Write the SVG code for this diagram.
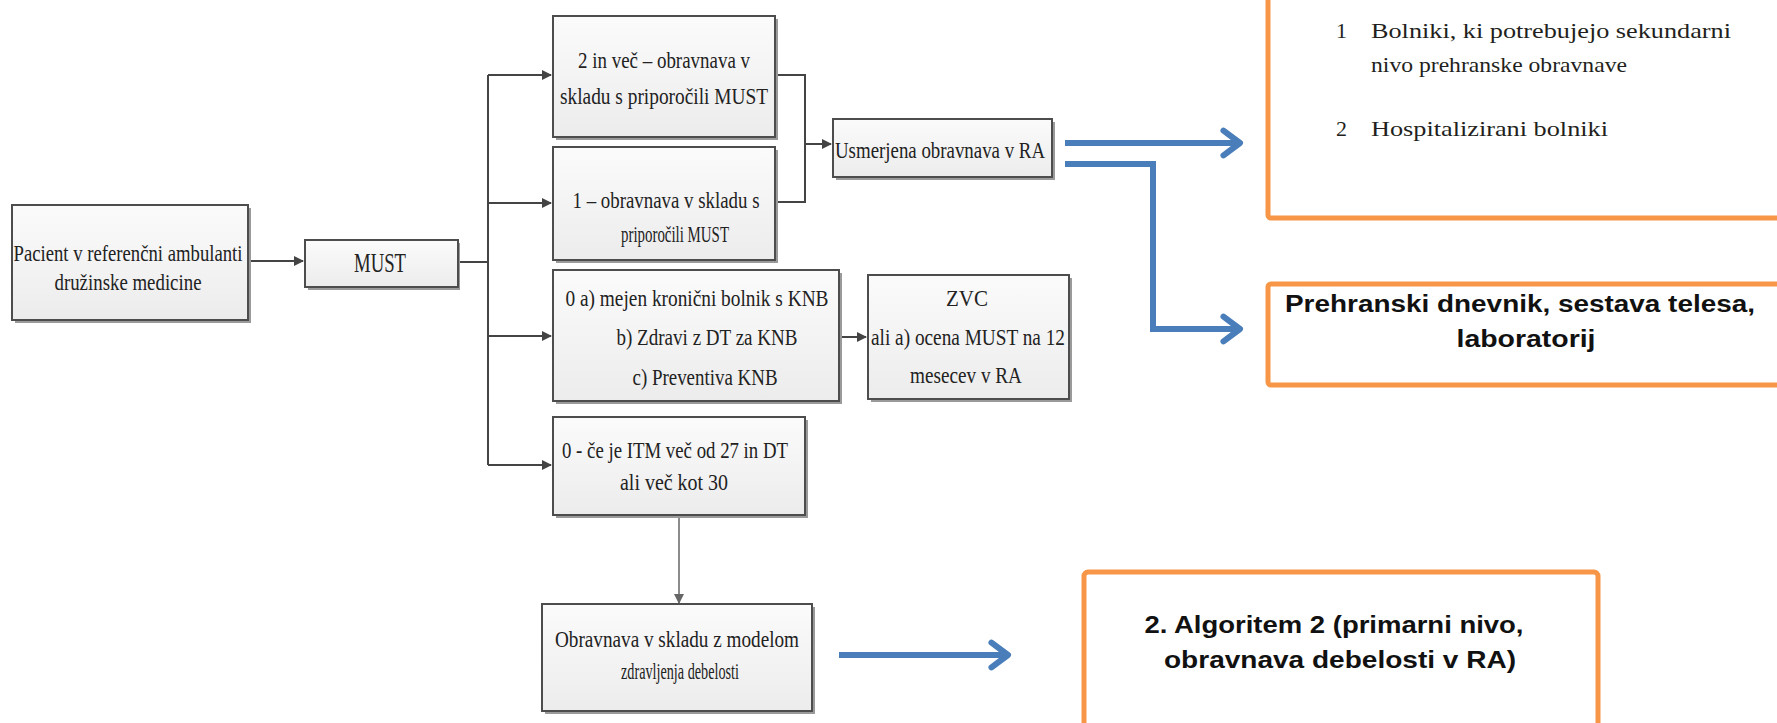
<svg xmlns="http://www.w3.org/2000/svg" width="1777" height="723" viewBox="0 0 1777 723">
<defs>
<linearGradient id="gf" x1="0" y1="0" x2="0" y2="1">
<stop offset="0" stop-color="#fbfbfb"/>
<stop offset="1" stop-color="#ececec"/>
</linearGradient>
<marker id="ah" viewBox="0 0 10 10" refX="9" refY="5" markerWidth="5" markerHeight="5" orient="auto" markerUnits="strokeWidth">
<path d="M0,0 L10,5 L0,10 Z" fill="#444"/>
</marker>
<marker id="ahs" viewBox="0 0 10 10" refX="9" refY="5" markerWidth="7" markerHeight="7" orient="auto" markerUnits="strokeWidth">
<path d="M0,0 L10,5 L0,10 Z" fill="#666"/>
</marker>
<marker id="bh" viewBox="0 0 12 12" refX="9" refY="6" markerWidth="5.5" markerHeight="5.5" orient="auto" markerUnits="strokeWidth">
<path d="M3,1.5 L9,6 L3,10.5" fill="none" stroke="#4a7ebb" stroke-width="2.2" stroke-linecap="round" stroke-linejoin="round"/>
</marker>
</defs>
<style>
.box{fill:url(#gf);stroke:#4d4d4d;stroke-width:2}
.sh{fill:#9a9a9a}
.t{font-family:"Liberation Serif","Times New Roman",serif;font-size:24px;fill:#222;text-anchor:middle;dominant-baseline:central}
.ob{fill:#fff;stroke:#f79646;stroke-width:5}
.st{font-family:"Liberation Serif","Times New Roman",serif;font-size:22px;fill:#231f20;dominant-baseline:central}
.bt{font-family:"Liberation Sans",Arial,sans-serif;font-size:23px;font-weight:bold;fill:#111;text-anchor:middle;dominant-baseline:central}
.c{fill:none;stroke:#444;stroke-width:2}
.bl{fill:none;stroke:#4a7ebb;stroke-width:6}
</style>
<rect width="1777" height="723" fill="#fff"/>

<g id="connectors">
<path class="c" d="M248,261 H303" marker-end="url(#ah)"/>
<path class="c" d="M460,262 H488 M488,75 V465"/>
<path class="c" d="M488,75 H551" marker-end="url(#ah)"/>
<path class="c" d="M488,203 H551" marker-end="url(#ah)"/>
<path class="c" d="M488,336 H551" marker-end="url(#ah)"/>
<path class="c" d="M488,465 H551" marker-end="url(#ah)"/>
<path class="c" d="M776,75 H805 V202 H776"/>
<path class="c" d="M805,144 H831" marker-end="url(#ah)"/>
<path class="c" d="M839,337 H866" marker-end="url(#ah)"/>
<path d="M679,516 V603" fill="none" stroke="#666" stroke-width="1.5" marker-end="url(#ahs)"/>
<path class="bl" d="M1065,143 H1240" marker-end="url(#bh)"/>
<path class="bl" d="M1065,164 H1153 V329 H1240" marker-end="url(#bh)"/>
<path class="bl" d="M839,655 H1008" marker-end="url(#bh)"/>
</g>

<g id="patient">
<rect class="sh" x="15" y="208" width="236" height="115"/>
<rect class="box" x="12" y="205" width="236" height="115"/>
<text class="t" x="128" y="253" textLength="229" lengthAdjust="spacingAndGlyphs">Pacient v referenčni ambulanti</text>
<text class="t" x="128" y="282" textLength="147" lengthAdjust="spacingAndGlyphs">družinske medicine</text>
</g>

<g id="must">
<rect class="sh" x="308" y="243" width="152" height="47"/>
<rect class="box" x="305" y="240" width="153" height="47"/>
<text class="t" x="380" y="262" style="font-size:28px" textLength="52" lengthAdjust="spacingAndGlyphs">MUST</text>
</g>

<g id="score2">
<rect class="sh" x="556" y="19" width="222" height="121"/>
<rect class="box" x="553" y="16" width="222" height="121"/>
<text class="t" x="664" y="60" textLength="172" lengthAdjust="spacingAndGlyphs">2 in več – obravnava v</text>
<text class="t" x="664" y="96" textLength="208" lengthAdjust="spacingAndGlyphs">skladu s priporočili MUST</text>
</g>

<g id="score1">
<rect class="sh" x="556" y="150" width="222" height="113"/>
<rect class="box" x="553" y="147" width="222" height="113"/>
<text class="t" x="666" y="200" textLength="187" lengthAdjust="spacingAndGlyphs">1 – obravnava v skladu s</text>
<text class="t" x="675" y="234" textLength="108" lengthAdjust="spacingAndGlyphs">priporočili MUST</text>
</g>

<g id="usmerjena">
<rect class="sh" x="836" y="122" width="219" height="58"/>
<rect class="box" x="833" y="119" width="219" height="58"/>
<text class="t" x="940" y="150" textLength="210" lengthAdjust="spacingAndGlyphs">Usmerjena obravnava v RA</text>
</g>

<g id="score0a">
<rect class="sh" x="556" y="273" width="286" height="131"/>
<rect class="box" x="553" y="270" width="286" height="131"/>
<text class="t" x="697" y="298" textLength="263" lengthAdjust="spacingAndGlyphs">0 a) mejen kronični bolnik s KNB</text>
<text class="t" x="707" y="337" textLength="181" lengthAdjust="spacingAndGlyphs">b) Zdravi z DT za KNB</text>
<text class="t" x="705" y="377" textLength="145" lengthAdjust="spacingAndGlyphs">c) Preventiva KNB</text>
</g>

<g id="zvc">
<rect class="sh" x="871" y="278" width="201" height="124"/>
<rect class="box" x="868" y="275" width="201" height="124"/>
<text class="t" x="967" y="298" textLength="42" lengthAdjust="spacingAndGlyphs">ZVC</text>
<text class="t" x="968" y="337" textLength="194" lengthAdjust="spacingAndGlyphs">ali a) ocena MUST na 12</text>
<text class="t" x="966" y="375" textLength="112" lengthAdjust="spacingAndGlyphs">mesecev v RA</text>
</g>

<g id="score0">
<rect class="sh" x="556" y="420" width="252" height="98"/>
<rect class="box" x="553" y="417" width="252" height="98"/>
<text class="t" x="675" y="450" textLength="226" lengthAdjust="spacingAndGlyphs">0 - če je ITM več od 27 in DT</text>
<text class="t" x="674" y="482" textLength="108" lengthAdjust="spacingAndGlyphs">ali več kot 30</text>
</g>

<g id="debelost">
<rect class="sh" x="545" y="607" width="270" height="107"/>
<rect class="box" x="542" y="604" width="270" height="107"/>
<text class="t" x="677" y="639" textLength="244" lengthAdjust="spacingAndGlyphs">Obravnava v skladu z modelom</text>
<text class="t" x="680" y="671" textLength="118" lengthAdjust="spacingAndGlyphs">zdravljenja debelosti</text>
</g>

<g id="sekundarni">
<rect class="ob" x="1268" y="-10" width="530" height="228" rx="3"/>
<text class="st" x="1336" y="30">1</text>
<text class="st" x="1371" y="30" textLength="360" lengthAdjust="spacingAndGlyphs">Bolniki, ki potrebujejo sekundarni</text>
<text class="st" x="1371" y="64" textLength="256" lengthAdjust="spacingAndGlyphs">nivo prehranske obravnave</text>
<text class="st" x="1336" y="128">2</text>
<text class="st" x="1371" y="128" textLength="237" lengthAdjust="spacingAndGlyphs">Hospitalizirani bolniki</text>
</g>

<g id="dnevnik">
<rect class="ob" x="1268" y="284" width="530" height="101" rx="3"/>
<text class="bt" x="1520" y="304" textLength="470" lengthAdjust="spacingAndGlyphs">Prehranski dnevnik, sestava telesa,</text>
<text class="bt" x="1526" y="339" textLength="139" lengthAdjust="spacingAndGlyphs">laboratorij</text>
</g>

<g id="algoritem2">
<rect class="ob" x="1084" y="572" width="514" height="170" rx="4"/>
<text class="bt" x="1334" y="625" textLength="379" lengthAdjust="spacingAndGlyphs">2. Algoritem 2 (primarni nivo,</text>
<text class="bt" x="1340" y="660" textLength="352" lengthAdjust="spacingAndGlyphs">obravnava debelosti v RA)</text>
</g>
</svg>
